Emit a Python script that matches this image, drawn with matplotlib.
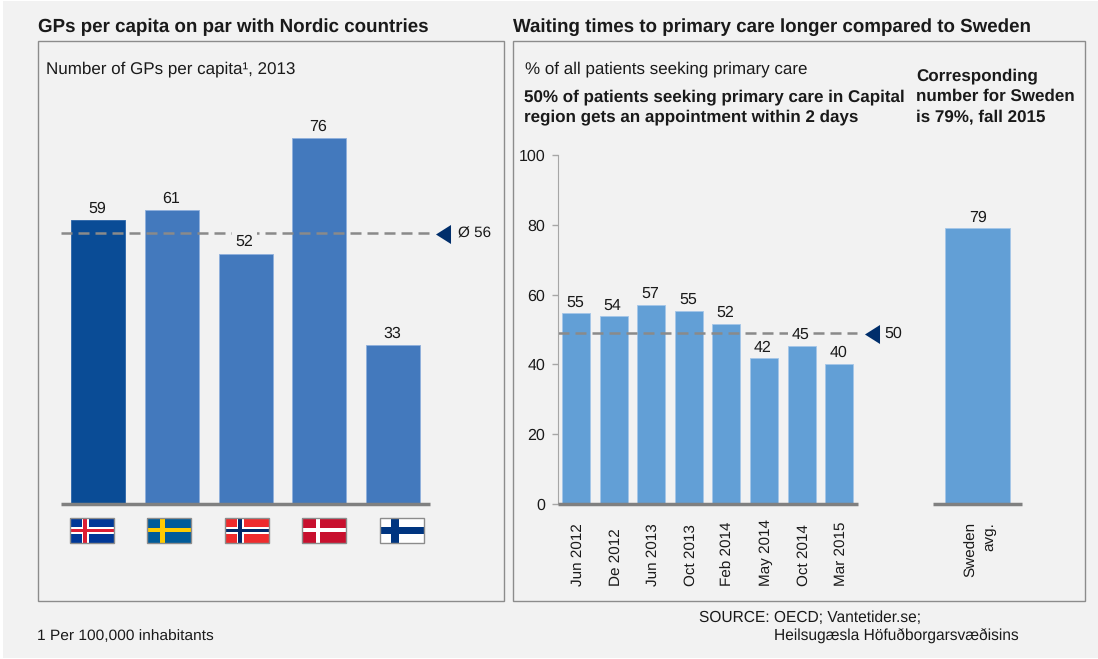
import matplotlib
matplotlib.use("Agg")
import matplotlib.pyplot as plt
from matplotlib.patches import Rectangle
from matplotlib.transforms import ScaledTranslation

plt.rcParams['font.family'] = ['Liberation Sans', 'DejaVu Sans']
plt.rcParams['text.hinting'] = 'no_hinting'

W, H = 1098, 659

gp_values = [59, 61, 52, 76, 33]
gp_avg = 56
gp_avg_line = 56.2
wait_labels = ['Jun 2012', 'De 2012', 'Jun 2013', 'Oct 2013', 'Feb 2014', 'May 2014', 'Oct 2014', 'Mar 2015']
wait_values = [54.6, 53.8, 57.1, 55.4, 51.6, 41.7, 45.4, 40.1]
wait_avg = 50
wait_avg_line = 49.1
sweden_value = [79]
sweden_label = ['Sweden\navg.']

TXT = '#1a1a1a'
GREY = '#808080'
NAVY = '#002e6b'
BG = '#f2f2f2'
ARROW = [(0.79, 1), (0.79, -1), (-0.79, 0)]


def px_axes(x0, x1, ytop, ybottom):
    # axes placed by pixel edges, y measured from the top of the image
    ax = fig.add_axes([x0 / W, 1 - ybottom / H, (x1 - x0) / W, (ybottom - ytop) / H])
    ax.patch.set_alpha(0)
    for s in ax.spines.values():
        s.set_visible(False)
    return ax


def baseline(ax):
    ax.spines['bottom'].set_visible(True)
    ax.spines['bottom'].set_color(GREY)
    ax.spines['bottom'].set_linewidth(2.5)
    ax.spines['bottom'].set_capstyle('butt')


def value_label(ax, x, v, dx=-0.7, off=3, gap=False):
    # gap=True knocks the dashed line out behind the label
    box = dict(fc=BG, ec='none', pad=2.5) if gap else None
    ax.annotate(str(round(v)), (x, v), xytext=(dx, off), textcoords='offset points', ha='center', va='bottom',
                fontsize=11.5, color=TXT, bbox=box)


def nudge_xticklabels(ax, px):
    for lab in ax.get_xticklabels():
        lab.set_transform(lab.get_transform() + ScaledTranslation(px / 100, 0, fig.dpi_scale_trans))


fig = plt.figure(figsize=(W / 100, H / 100), dpi=100, facecolor='white')

# page background, panels and text
bg = fig.add_axes([0, 0, 1, 1])
bg.set_xlim(0, W)
bg.set_ylim(H, 0)
bg.axis('off')
bg.add_patch(Rectangle((3, 1), W - 3, H - 2, fc=BG, ec='none'))
bg.add_patch(Rectangle((37.5, 40.5), 466.5, 560, fc='none', ec='#8c8c8c', lw=1))
bg.add_patch(Rectangle((512.5, 40.5), 572.5, 560, fc='none', ec='#8c8c8c', lw=1))

bg.text(38, 27, 'GPs per capita on par with Nordic countries', fontsize=13.48, fontweight='bold', color=TXT, va='center')
bg.text(513, 27, 'Waiting times to primary care longer compared to Sweden', fontsize=13.48, fontweight='bold', color=TXT, va='center')
bg.text(46, 69, 'Number of GPs per capita¹, 2013', fontsize=12.25, color=TXT, va='center')
bg.text(525, 69, '% of all patients seeking primary care', fontsize=12.25, color=TXT, va='center')
bg.text(524, 107, '50% of patients seeking primary care in Capital\nregion gets an appointment within 2 days',
        fontsize=12.22, fontweight='bold', color=TXT, va='center', linespacing=1.4)
bg.text(916, 96.5, 'Corresponding\nnumber for Sweden\nis 79%, fall 2015', fontsize=12.22, fontweight='bold', color=TXT,
        va='center', linespacing=1.4)
bg.text(37, 636, '1 Per 100,000 inhabitants', fontsize=11.15, color=TXT, va='center')
bg.text(699, 618, 'SOURCE: OECD; Vantetider.se;', fontsize=11.2, color=TXT, va='center')
bg.text(774, 636, 'Heilsugæsla Höfuðborgarsvæðisins', fontsize=11.2, color=TXT, va='center')

# left chart
ax1 = px_axes(61, 430, 100, 504)
ax1.set_xlim(-0.502, 4.5)
ax1.set_ylim(0, 404 / 4.816)
colors1 = ['#0a4c96'] + ['#4379bd'] * 4
edges1 = ['#2a64a8'] + ['#8fb0dc'] * 4
ax1.bar(range(5), gp_values, width=0.733, color=colors1, edgecolor=edges1, linewidth=0.6)
for i, v in enumerate(gp_values):
    value_label(ax1, i, v, gap=(i == 2))
ax1.axhline(gp_avg_line, color='#8a8a8a', lw=1.8, dashes=(4.4, 2.4))
ax1.set_xticks([])
ax1.set_yticks([])
baseline(ax1)
bg.plot([443.4], [233.5], marker=ARROW, ms=13.7, color=NAVY, mec='none', ls='none')
bg.text(458, 233.5, 'Ø %d' % gp_avg, fontsize=11, color=TXT, va='center')


# flags: field colour, cross colour, cross widths, optional inner cross
def flag(x, field, outer, tv, th, inner=None):
    y, w, h = 517.5, 44, 25.5
    cx = x + 15.5
    cy = y + h / 2
    bg.add_patch(Rectangle((x, y), w, h, fc=field, ec='none', zorder=3))
    bg.add_patch(Rectangle((cx - tv / 2, y), tv, h, fc=outer, ec='none', zorder=4))
    bg.add_patch(Rectangle((x, cy - th / 2), w, th, fc=outer, ec='none', zorder=4))
    if inner:
        bg.add_patch(Rectangle((cx - 1.7, y), 3.4, h, fc=inner, ec='none', zorder=5))
        bg.add_patch(Rectangle((x, cy - 1.7), w, 3.4, fc=inner, ec='none', zorder=5))
    bg.add_patch(Rectangle((x, y), w, h, fc='none', ec='#8c8c8c', lw=1, zorder=6))


flag(69.5, '#003897', 'white', 7, 7, '#dc1e35')
flag(147, '#005b99', '#fecb00', 5.5, 4)
flag(224.5, '#ef2b2d', 'white', 7, 7, '#002868')
flag(302, '#c8102e', 'white', 4, 4)
flag(379.5, 'white', '#003580', 7.5, 7)

# right chart
ax2 = px_axes(558, 858, 155, 504)
ax2.set_xlim(-0.479, 7.5)
ax2.set_ylim(0, 100)
x2 = list(range(len(wait_values)))
ax2.bar(x2, wait_values, width=0.745, color='#629fd6', edgecolor='#a5c6e8', linewidth=0.6)
for i, v in zip(x2, wait_values):
    value_label(ax2, i, v, off=2.5, gap=(i == 6))
ax2.plot([-0.479, 7.47], [wait_avg_line, wait_avg_line], color='#8a8a8a', lw=1.8, dashes=(4.4, 2.4))
ax2.set_xticks(x2)
ax2.set_xticklabels(wait_labels, rotation=90, fontsize=11, color=TXT, va='bottom')
ax2.set_yticks([0, 20, 40, 60, 80, 100])
ax2.tick_params(axis='y', labelsize=11.5, labelcolor=TXT, length=4.3, color='#a6a6a6', width=1, pad=5)
ax2.tick_params(axis='x', length=0, pad=59)
nudge_xticklabels(ax2, 2)
ax2.spines['left'].set_visible(True)
ax2.spines['left'].set_color('#a6a6a6')
baseline(ax2)
bg.plot([871.7], [333.5], marker=ARROW, ms=13.7, color=NAVY, mec='none', ls='none')
bg.text(884.5, 334, str(wait_avg), fontsize=11.5, color=TXT, va='center')

ax3 = px_axes(933, 1022, 155, 504)
ax3.set_xlim(-0.5, 0.5)
ax3.set_ylim(0, 100)
ax3.bar([0], sweden_value, width=0.72, color='#629fd6', edgecolor='#a5c6e8', linewidth=0.6)
value_label(ax3, 0, sweden_value[0], dx=0.7, off=2.5)
ax3.set_xticks([0])
ax3.set_xticklabels(sweden_label, rotation=90, fontsize=11, color=TXT, va='bottom', linespacing=1.4, multialignment='right')
ax3.set_yticks([])
ax3.tick_params(axis='x', length=0, pad=52.5)
nudge_xticklabels(ax3, 2.5)
baseline(ax3)

fig.savefig('out.png', dpi=100)
